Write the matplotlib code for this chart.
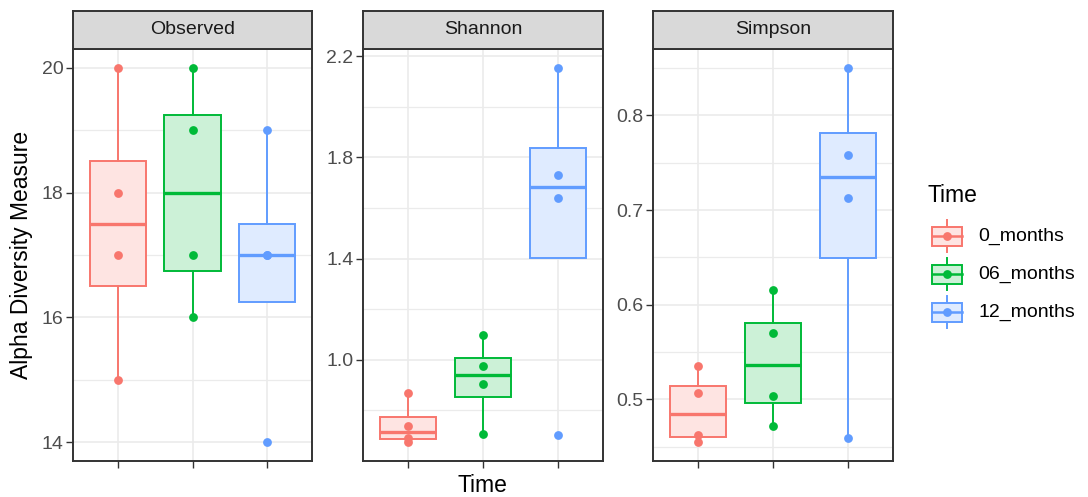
import matplotlib.pyplot as plt
import numpy as np
from matplotlib.patches import Rectangle

plt.rcParams['font.family'] = ['Liberation Sans', 'DejaVu Sans']

# Data
groups = ['0_months', '06_months', '12_months']
colors = ['#F8766D', '#00BA38', '#619CFF']
observed = [[15, 17, 18, 20], [16, 17, 19, 20], [14, 17, 17, 19]]
shannon = [[0.677, 0.69, 0.74, 0.87], [0.707, 0.903, 0.975, 1.099], [0.701, 1.638, 1.730, 2.154]]
simpson = [[0.4545, 0.462, 0.507, 0.535], [0.4718, 0.5035, 0.5696, 0.615], [0.4594, 0.7125, 0.758, 0.8505]]
measures = ['Observed', 'Shannon', 'Simpson']
major_ticks = [[14, 16, 18, 20], [1.0, 1.4, 1.8, 2.2], [0.5, 0.6, 0.7, 0.8]]
minor_ticks = [[15, 17, 19], [0.6, 0.8, 1.2, 1.6, 2.0], [0.45, 0.55, 0.65, 0.75, 0.85]]
tick_fmt = ['{:.0f}', '{:.1f}', '{:.1f}']

W, H = 1088, 497
fig = plt.figure(figsize=(W / 100, H / 100), dpi=100)


def px_axes(x0, y0, x1, y1):
    return fig.add_axes([x0 / W, 1 - y1 / H, (x1 - x0) / W, (y1 - y0) / H])


def fill_of(c, a=0.2):
    rgb = np.array(plt.matplotlib.colors.to_rgb(c))
    return tuple(1 - a + a * rgb)


panel_x = [(73, 312), (363, 603), (653, 893)]
border = '#333333'
pt_size = 40

for i, data in enumerate([observed, shannon, simpson]):
    x0, x1 = panel_x[i]
    ax = px_axes(x0, 49, x1, 461)
    bp = ax.boxplot(data, positions=[1, 2, 3], widths=0.75, patch_artist=True,
                    showfliers=False, showcaps=False, whis=1.5, zorder=2)
    for j, c in enumerate(colors):
        bp['boxes'][j].set(facecolor=fill_of(c), edgecolor=c, linewidth=1.4)
        bp['medians'][j].set(color=c, linewidth=2.4)
        for w in bp['whiskers'][2 * j:2 * j + 2]:
            w.set(color=c, linewidth=1.4)
        ax.scatter([j + 1] * len(data[j]), data[j], s=pt_size, color=c, zorder=3, linewidths=0)
    allv = np.concatenate(data)
    lo, hi = allv.min(), allv.max()
    pad = (hi - lo) * 0.05
    ax.set_ylim(lo - pad, hi + pad)
    ax.set_xlim(0.4, 3.6)
    ax.set_yticks(major_ticks[i])
    ax.set_yticklabels([tick_fmt[i].format(v) for v in major_ticks[i]])
    ax.set_yticks(minor_ticks[i], minor=True)
    ax.set_xticks([1, 2, 3])
    ax.set_xticklabels(['', '', ''])
    ax.grid(True, which='major', color='#EBEBEB', linewidth=1.2, zorder=0)
    ax.grid(True, which='minor', axis='y', color='#EBEBEB', linewidth=0.9, zorder=0)
    ax.set_axisbelow(True)
    ax.tick_params(which='major', length=5, width=1, color=border, labelsize=14,
                   labelcolor='#4D4D4D', pad=2)
    ax.tick_params(which='minor', length=0)
    for s in ax.spines.values():
        s.set_color(border)
        s.set_linewidth(1.4)

    # facet strip
    sax = px_axes(x0, 11, x1, 49)
    sax.set_facecolor('#D9D9D9')
    sax.set_xticks([])
    sax.set_yticks([])
    for s in sax.spines.values():
        s.set_color(border)
        s.set_linewidth(1.4)
    sax.text(0.5, 0.5, measures[i], ha='center', va='center', fontsize=14,
             color='#1A1A1A', transform=sax.transAxes)

fig.text(22 / W, 1 - 255 / H, 'Alpha Diversity Measure', rotation=90,
         ha='center', va='center', fontsize=16.5, color='black')
fig.text(482 / W, 1 - 485 / H, 'Time', ha='center', va='center', fontsize=16.5,
         color='black')

# legend
fig.text(928 / W, 1 - 195 / H, 'Time', ha='left', va='center', fontsize=16.5)
lax = px_axes(925, 215, 1080, 335)
lax.set_xlim(925, 1080)
lax.set_ylim(335, 215)
lax.axis('off')
for j, (g, c) in enumerate(zip(groups, colors)):
    cy = 236 + j * 38
    lax.plot([946.5, 946.5], [cy - 16, cy + 16], color=c, linewidth=1.4, zorder=1)
    lax.add_patch(Rectangle((932, cy - 9.5), 29.5, 19, facecolor=fill_of(c),
                            edgecolor=c, linewidth=1.4, zorder=2))
    lax.plot([932, 961.5], [cy, cy], color=c, linewidth=1.8, zorder=3)
    lax.scatter([946.5], [cy], s=pt_size, color=c, zorder=4, linewidths=0)
    lax.text(978, cy, g, ha='left', va='center', fontsize=14, color='black')

fig.savefig('out.png', dpi=100)
